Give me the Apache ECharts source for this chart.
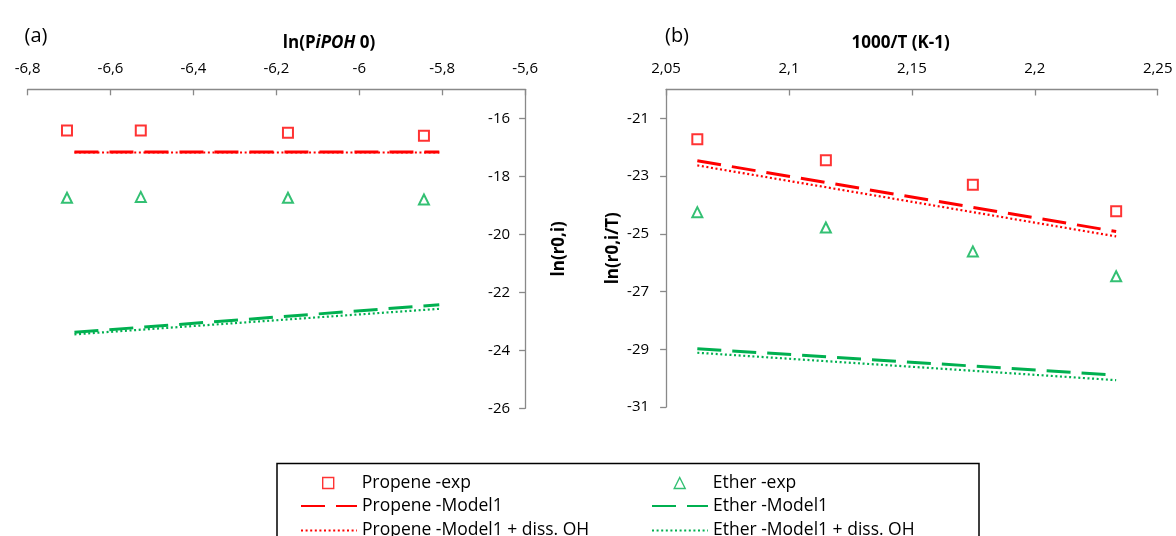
<!DOCTYPE html>
<html>
<head>
<meta charset="utf-8">
<script src="https://cdn.jsdelivr.net/npm/echarts@6/dist/echarts.min.js"></script>
<style>html,body{margin:0;padding:0;background:#fff;}#c{width:1176px;height:536px;}</style>
</head>
<body>
<div id="c"></div>
<script>
// ---- Panel (a) data ----
const aXTicks = [-6.8, -6.6, -6.4, -6.2, -6, -5.8, -5.6];
const aYTicks = [-26, -24, -22, -20, -18, -16];
const aExpX = [-6.705, -6.527, -6.172, -5.844];
const aPropeneExp = [-16.42, -16.42, -16.50, -16.60];
const aEtherExp = [-18.74, -18.71, -18.74, -18.80];
const aModelX = [-6.687, -5.807];
const aPropeneModel1 = [-17.16, -17.16];
const aPropeneModel1OH = [-17.18, -17.18];
const aEtherModel1 = [-23.38, -22.43];
const aEtherModel1OH = [-23.45, -22.57];

// ---- Panel (b) data ----
const bXTicks = [2.05, 2.1, 2.15, 2.2, 2.25];
const bYTicks = [-31, -29, -27, -25, -23, -21];
const bExpX = [2.0627, 2.115, 2.1748, 2.2331];
const bPropeneExp = [-21.72, -22.45, -23.30, -24.22];
const bEtherExp = [-24.25, -24.78, -25.61, -26.47];
const bModelX = [2.0627, 2.2331];
const bPropeneModel1 = [-22.47, -24.92];
const bPropeneModel1OH = [-22.63, -25.09];
const bEtherModel1 = [-28.98, -29.895];
const bEtherModel1OH = [-29.12, -30.07];

const names = ['Propene -exp', 'Ether -exp', 'Propene -Model1', 'Ether -Model1',
  'Propene -Model1 + diss. OH', 'Ether -Model1 + diss. OH'];

const RED = '#FF0000', GREEN = '#00B050', AXIS = '#898989';
const FONT = '"Open Sans", sans-serif';

const zip = (xs, ys) => xs.map((x, i) => [x, ys[i]]);
const fmt = v => String(v).replace('.', ',');

function scatter(name, xi, yi, xs, ys, sym, color) {
  return { type: 'scatter', name, xAxisIndex: xi, yAxisIndex: yi, data: zip(xs, ys),
    symbol: sym, symbolSize: 10, itemStyle: { color, borderWidth: 1.5 }, z: 5 };
}
function line(name, xi, yi, xs, ys, color, dotted) {
  return { type: 'line', name, xAxisIndex: xi, yAxisIndex: yi, data: zip(xs, ys),
    symbol: 'none', itemStyle: { color },
    lineStyle: dotted ? { color, width: 2.2, type: [2, 2.6] } : { color, width: 3, type: [24, 11] } };
}

const axisLine = { show: true, lineStyle: { color: AXIS, width: 1.3 } };
const labelStyle = { color: '#000', fontSize: 15, fontFamily: FONT };
const nameStyle = { color: '#000', fontSize: 17, fontWeight: 'bold', fontFamily: FONT };
const legendText = { color: '#000', fontSize: 17.5, fontFamily: FONT };

// legend rows (centres), columns (line icon left edge) and marker centres
const rowY = [479.5, 504, 528.5];
const colX = [300, 651];
const markX = [327.5, 679];
const SQUARE = 'path://M0,0L10,0L10,10L0,10Z';
const TRIANGLE = 'path://M5,0L10,10L0,10Z';

function symLegend(name, col, row, icon, color) {
  const left = markX[col] - 5.5;
  const textStart = colX[col] + 56 + 5;
  return { orient: 'horizontal', left, top: rowY[row] - 5.5, itemWidth: 11, itemHeight: 11,
    symbolKeepAspect: true, selectedMode: false, padding: 0,
    data: [{ name, icon, itemStyle: { color: '#fff', borderColor: color, borderWidth: 1.4 } }],
    textStyle: { ...legendText, padding: [0, 0, 0, textStart - (left + 11 + 5)] } };
}
function lineLegend(name, col, row) {
  return { orient: 'horizontal', left: colX[col], top: rowY[row] - 7, itemWidth: 56, itemHeight: 14,
    selectedMode: false, padding: 0,
    itemStyle: { color: 'rgba(0,0,0,0)', borderWidth: 0, opacity: 0 },
    data: [name], textStyle: legendText };
}

const chart = echarts.init(document.getElementById('c'), null, { renderer: 'canvas' });
chart.setOption({
  animation: false,
  backgroundColor: '#fff',
  grid: [
    { left: 27.6, top: 89.3, width: 497.5, height: 319, containLabel: false, outerBoundsMode: 'none' },
    { left: 666.1, top: 89.5, width: 491.6, height: 317.5, containLabel: false, outerBoundsMode: 'none' }
  ],
  xAxis: [
    { type: 'value', gridIndex: 0, position: 'top', min: -6.8, max: -5.6, interval: 0.2,
      axisLine, splitLine: { show: false },
      axisTick: { show: true, inside: true, length: 6, lineStyle: { color: AXIS, width: 1.3 }, customValues: aXTicks },
      axisLabel: { ...labelStyle, margin: 13, formatter: fmt, customValues: aXTicks } },
    { type: 'value', gridIndex: 1, position: 'top', min: 2.05, max: 2.25, interval: 0.05,
      axisLine, splitLine: { show: false },
      axisTick: { show: true, inside: true, length: 6, lineStyle: { color: AXIS, width: 1.3 }, customValues: bXTicks },
      axisLabel: { ...labelStyle, margin: 13, formatter: fmt, customValues: bXTicks } }
  ],
  yAxis: [
    { type: 'value', gridIndex: 0, position: 'right', min: -26, max: -15, interval: 1,
      axisLine, splitLine: { show: false },
      axisTick: { show: true, inside: true, length: 6, lineStyle: { color: AXIS, width: 1.3 }, customValues: aYTicks },
      axisLabel: { ...labelStyle, inside: true, margin: 15, formatter: fmt, customValues: aYTicks },
      name: 'ln(r0,i)', nameLocation: 'middle', nameGap: 26, nameRotate: 90, nameTextStyle: nameStyle },
    { type: 'value', gridIndex: 1, position: 'left', min: -31, max: -20, interval: 1,
      axisLine, splitLine: { show: false },
      axisTick: { show: true, inside: false, length: 6, lineStyle: { color: AXIS, width: 1.3 }, customValues: bYTicks },
      axisLabel: { ...labelStyle, margin: 17, formatter: fmt, customValues: bYTicks },
      name: 'ln(r0,i/T)', nameLocation: 'middle', nameGap: 44, nameRotate: 90, nameTextStyle: nameStyle }
  ],
  legend: [
    symLegend(names[0], 0, 0, SQUARE, RED),
    symLegend(names[1], 1, 0, TRIANGLE, GREEN),
    lineLegend(names[2], 0, 1),
    lineLegend(names[3], 1, 1),
    lineLegend(names[4], 0, 2),
    lineLegend(names[5], 1, 2)
  ],
  graphic: [
    { type: 'text', x: 36, y: 36, style: { text: '(a)', fill: '#000', font: '20px ' + FONT, align: 'center', verticalAlign: 'middle' } },
    { type: 'text', x: 677, y: 36, style: { text: '(b)', fill: '#000', font: '20px ' + FONT, align: 'center', verticalAlign: 'middle' } },
    { type: 'text', x: 329, y: 43, style: { text: '{n|ln(P}{i|iPOH}{n| 0)}', align: 'center', verticalAlign: 'middle',
        rich: { n: { fill: '#000', fontSize: 17, fontWeight: 'bold', fontFamily: FONT },
                i: { fill: '#000', fontSize: 17, fontWeight: 'bold', fontStyle: 'italic', fontFamily: FONT } } } },
    { type: 'text', x: 900.7, y: 43, style: { text: '1000/T (K-1)', fill: '#000', font: 'bold 17px ' + FONT, align: 'center', verticalAlign: 'middle' } },
    { type: 'rect', shape: { x: 277, y: 463.5, width: 702, height: 90 }, style: { fill: 'none', stroke: '#000', lineWidth: 1.5 }, silent: true }
  ],
  series: [
    scatter(names[0], 0, 0, aExpX, aPropeneExp, 'emptyRect', RED),
    scatter(names[1], 0, 0, aExpX, aEtherExp, 'emptyTriangle', GREEN),
    line(names[2], 0, 0, aModelX, aPropeneModel1, RED, false),
    line(names[3], 0, 0, aModelX, aEtherModel1, GREEN, false),
    line(names[4], 0, 0, aModelX, aPropeneModel1OH, RED, true),
    line(names[5], 0, 0, aModelX, aEtherModel1OH, GREEN, true),
    scatter(names[0], 1, 1, bExpX, bPropeneExp, 'emptyRect', RED),
    scatter(names[1], 1, 1, bExpX, bEtherExp, 'emptyTriangle', GREEN),
    line(names[2], 1, 1, bModelX, bPropeneModel1, RED, false),
    line(names[3], 1, 1, bModelX, bEtherModel1, GREEN, false),
    line(names[4], 1, 1, bModelX, bPropeneModel1OH, RED, true),
    line(names[5], 1, 1, bModelX, bEtherModel1OH, GREEN, true)
  ]
});
</script>
</body>
</html>
